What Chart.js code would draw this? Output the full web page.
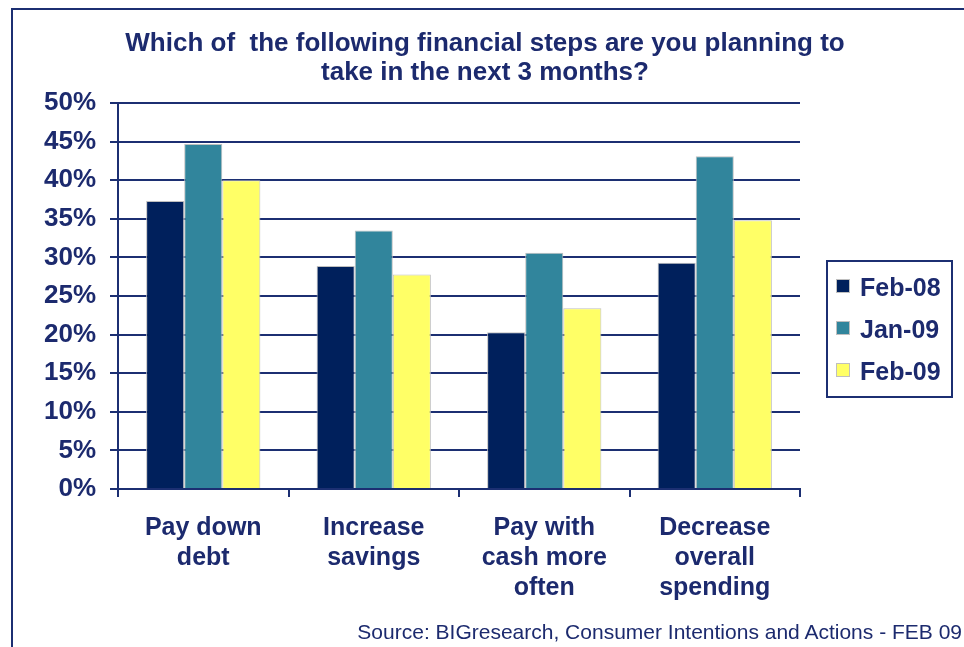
<!DOCTYPE html>
<html>
<head>
<meta charset="utf-8">
<script src="https://cdn.jsdelivr.net/npm/chart.js@4.4.0/dist/chart.umd.min.js"></script>
<style>
  html, body { margin: 0; padding: 0; background: #fff; }
  #wrap { position: relative; width: 964px; height: 647px; overflow: hidden; font-family: 'Liberation Sans', Arial, sans-serif; color: #1c2a6e; }
  #frame { position: absolute; left: 11px; top: 8px; right: -4px; bottom: -4px; border-left: 2px solid #1c2f72; border-top: 2px solid #1c2f72; }
  #title { position: absolute; left: 0; width: 970px; top: 28px; text-align: center; font-weight: bold; font-size: 26px; line-height: 29px; }
  #legend { position: absolute; left: 826px; top: 260px; width: 127px; height: 138px; border: 2px solid #1c2f72; box-sizing: border-box; }
  .item { position: absolute; left: 8px; font-weight: bold; font-size: 25px; line-height: 26px; white-space: nowrap; }
  .item span.sw { display: inline-block; width: 12px; height: 12px; border: 1px solid #bfbfbf; margin-right: 10px; vertical-align: 3px; }
  #source { position: absolute; right: 2px; top: 620px; font-size: 21px; line-height: 24px; }
  canvas { position: absolute; left: 0; top: 0; }
</style>
</head>
<body>
<div id="wrap">
  <div id="frame"></div>
  <canvas id="chart" width="964" height="647"></canvas>
  <div id="title">Which of &nbsp;the following financial steps are you planning to<br>take in the next 3 months?</div>
  <div id="legend"></div>
  <div id="source">Source: BIGresearch, Consumer Intentions and Actions - FEB 09</div>
</div>
<script>
// chart data
const categories = [['Pay down', 'debt'], ['Increase', 'savings'], ['Pay with', 'cash more', 'often'], ['Decrease', 'overall', 'spending']];
const seriesNames = ['Feb-08', 'Jan-09', 'Feb-09'];
const feb08 = [37.3, 28.9, 20.3, 29.3];
const jan09 = [44.7, 33.5, 30.6, 43.1];
const feb09 = [40.0, 27.8, 23.4, 34.8];
const colors = ['#00205c', '#31859c', '#ffff66'];
const yTicks = [0, 5, 10, 15, 20, 25, 30, 35, 40, 45, 50];

const navy = '#1c2f72';
const textColor = '#1c2a6e';
const font = "'Liberation Sans', Arial, sans-serif";

const ctx = document.getElementById('chart').getContext('2d');
const chart = new Chart(ctx, {
    type: 'bar',
    data: {
        labels: categories,
        datasets: [feb08, jan09, feb09].map(function(vals, i) {
            return {
                label: seriesNames[i],
                data: vals,
                backgroundColor: colors[i],
                borderColor: '#bfbfbf',
                borderWidth: 1,
                categoryPercentage: 0.67,
                barPercentage: 1.0
            };
        })
    },
    options: {
        responsive: false,
        animation: false,
        layout: { padding: { top: 103, right: 164, bottom: 0, left: 0 } },
        scales: {
            y: {
                min: 0,
                max: 50,
                afterFit: function(scale) { scale.width = 118; },
                afterBuildTicks: function(scale) {
                    scale.ticks = yTicks.map(function(v) { return { value: v }; });
                },
                grid: { color: navy, lineWidth: 2, tickLength: 8 },
                border: { color: navy, width: 2 },
                ticks: {
                    padding: 14,
                    color: textColor,
                    font: { family: font, size: 26, weight: 'bold' },
                    callback: function(v) { return v + '%'; }
                }
            },
            x: {
                afterFit: function(scale) { scale.height = 158; },
                grid: { drawOnChartArea: false, color: navy, lineWidth: 2, tickLength: 8 },
                border: { color: navy, width: 2 },
                ticks: {
                    padding: 16,
                    color: textColor,
                    maxRotation: 0,
                    font: { family: font, size: 25, weight: 'bold', lineHeight: 1.2 }
                }
            }
        },
        plugins: {
            legend: { display: false },
            tooltip: { enabled: false }
        }
    }
});

// legend built from the chart's datasets
const legendEl = document.getElementById('legend');
chart.data.datasets.forEach(function(ds, i) {
    const item = document.createElement('div');
    item.className = 'item';
    item.style.top = (12 + i * 42) + 'px';
    item.innerHTML = '<span class="sw" style="background:' + ds.backgroundColor + '"></span>' + ds.label;
    legendEl.appendChild(item);
});
</script>
</body>
</html>
